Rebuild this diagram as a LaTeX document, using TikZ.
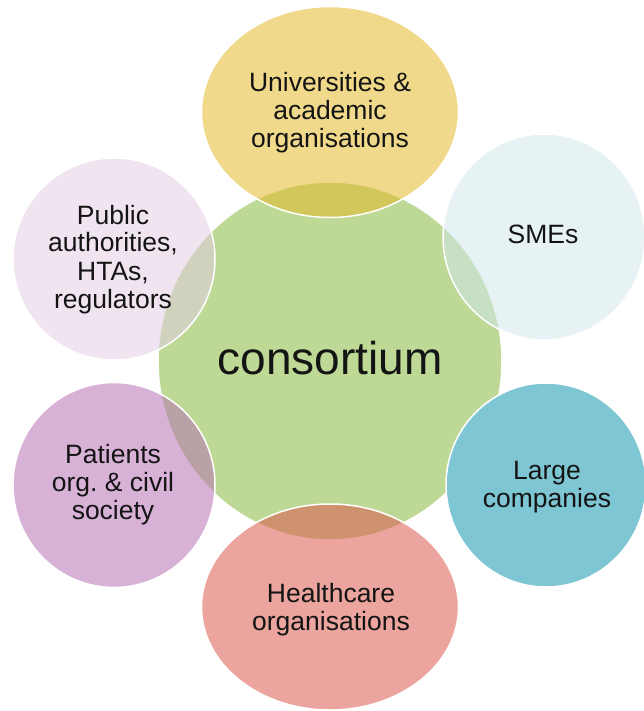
\documentclass[tikz,border=0pt]{standalone}
\usepackage{fontspec}
\setmainfont{Liberation Sans}
\usetikzlibrary{shapes.geometric}
\definecolor{cgreen}{RGB}{189,217,149}
\definecolor{cuni}{RGB}{227,185,42}
\definecolor{csme}{RGB}{209,231,235}
\definecolor{cpub}{RGB}{225,205,225}
\definecolor{cpat}{RGB}{184,115,180}
\definecolor{clarge}{RGB}{126,198,211}
\definecolor{chealth}{RGB}{220,91,78}
\definecolor{ctext}{RGB}{20,20,20}
\newcommand\mylines[1]{\begin{tabular}[t]{@{}c@{}}#1\end{tabular}}
\tikzset{
  blob/.style={ellipse, draw=white, line width=1.5pt, inner sep=0pt, outer sep=0pt},
  sat/.style={blob, fill opacity=0.55, draw opacity=1},
  lbl/.style={anchor=base, inner sep=0pt, text=ctext,
    font=\fontsize{26.5}{28}\selectfont},
  big/.style={anchor=base, inner sep=0pt, text=ctext,
    font=\fontsize{46}{50}\selectfont}
}
\begin{document}
\frenchspacing
\begin{tikzpicture}[x=1pt,y=-1pt]
\useasboundingbox (0,0) rectangle (643,711);
\node[blob, fill=cgreen, minimum width=344pt, minimum height=358pt] (core) at (330,361) {};
\node[sat, fill=cuni, minimum width=257pt, minimum height=211pt] (uni) at (330,112) {};
\node[sat, fill=csme, minimum width=202pt, minimum height=206pt] (sme) at (544,237) {};
\node[blob, fill=clarge, minimum width=200pt, minimum height=204pt] (large) at (546,485) {};
\node[sat, fill=chealth, minimum width=257pt, minimum height=206pt] (health) at (330,607) {};
\node[sat, fill=cpat, minimum width=202pt, minimum height=205pt] (pat) at (114,485) {};
\node[sat, fill=cpub, minimum width=202pt, minimum height=202pt] (pub) at (114,259) {};
\node[big] (tcore) at (330,374) {consortium};
\node[lbl] (tuni) at (330,92) {\mylines{Universities \&\\academic\\organisations}};
\node[lbl] (tsme) at (543,243) {SMEs};
\node[lbl] (tpub) at (113,224) {\mylines{Public\\authorities,\\HTAs,\\regulators}};
\node[lbl] (tpat) at (113,463) {\mylines{Patients\\org.\ \& civil\\society}};
\node[lbl] (tlarge) at (547,479) {\mylines{Large\\companies}};
\node[lbl] (thealth) at (331,602) {\mylines{Healthcare\\organisations}};
\end{tikzpicture}
\end{document}
